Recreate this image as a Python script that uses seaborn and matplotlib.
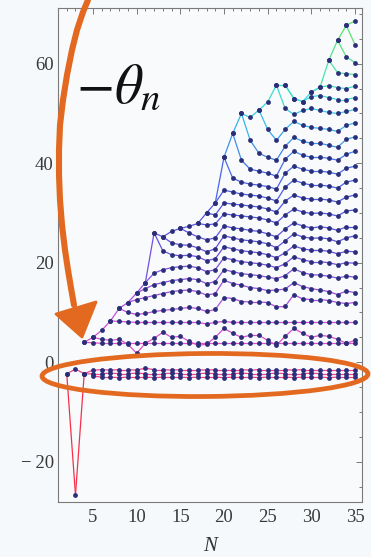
import numpy as np
import pandas as pd
import matplotlib
matplotlib.use("Agg")
import matplotlib.pyplot as plt
from matplotlib.colors import LinearSegmentedColormap
from matplotlib.patches import Ellipse, Polygon
from matplotlib.ticker import MultipleLocator, FuncFormatter
import seaborn as sns

# -theta_n against N.  Every list holds consecutive N values and ends at the
# N given next to it in `last_n` below.
theta_dip = [-2.3, -26.7, -2.3]
theta_band_hi = [-2.3, -1.4, -2.3, -1.6, -1.5, -1.6, -1.5, -1.5, -1.6, -1.2,
                 -1.5, -1.5, -1.6, -1.5, -1.5, -1.5, -1.6, -1.5, -1.5, -1.5,
                 -1.5, -1.6, -1.5, -1.5, -1.5, -1.5, -1.6, -1.5, -1.5, -1.5,
                 -1.5, -1.5, -1.5, -1.5]
theta_band_mid = [-2.4, -2.3, -2.3, -2.2, -2.3, -2.3, -2.2, -2.3, -2.3, -2.3,
                  -2.2, -2.3, -2.3, -2.3, -2.2, -2.3, -2.3, -2.3, -2.2, -2.3,
                  -2.3, -2.3, -2.2, -2.3, -2.3, -2.3, -2.2, -2.3, -2.3, -2.3,
                  -2.3, -2.3]
theta_band_lo = [-2.8, -3.0, -3.0, -3.1, -3.0, -3.0, -3.0, -3.1, -3.0, -3.0,
                 -3.0, -3.1, -3.0, -3.0, -3.0, -3.1, -3.0, -3.0, -3.0, -3.1,
                 -3.0, -3.0, -3.0, -3.1, -3.0, -3.0, -3.0, -3.1, -3.0, -3.0,
                 -3.0]
theta_a = [4.0, 3.9, 3.8, 3.8, 3.8, 3.8, 3.8, 3.8, 3.8, 3.8, 3.8, 3.8, 3.8,
           3.8, 3.8, 3.8, 3.8, 3.8, 3.8, 3.8, 3.8, 3.8, 3.8, 3.8, 3.8, 3.8,
           3.8, 3.8, 3.8, 3.8, 3.8, 3.8]
theta_b = [5.0, 4.6, 4.4, 4.6, 3.6, 1.8, 3.8, 4.8, 6.0, 5.0, 5.2, 4.2, 3.4,
           3.6, 5.0, 6.8, 5.8, 5.0, 5.4, 5.4, 4.4, 3.4, 5.2, 6.8, 5.8, 5.0,
           5.4, 5.2, 4.6, 3.8, 4.4]
theta_c = [8.3, 8.2, 8.1, 8.0, 8.0, 8.0, 8.0, 8.0, 8.0, 8.0, 8.0, 7.7, 8.0,
           8.2, 8.0, 8.0, 8.0, 8.0, 8.0, 8.0, 8.0, 8.0, 8.0, 8.0, 8.0, 8.0,
           8.0, 8.0, 8.0]
theta_d = [10.8, 10.0, 9.6, 9.8, 10.2, 10.4, 10.6, 10.8, 11.0, 10.8, 10.2,
           10.6, 13.0, 12.8, 12.2, 12.1, 12.1, 12.0, 11.1, 11.2, 13.6, 12.7,
           12.6, 12.6, 12.4, 12.0, 11.8, 12.0]
theta_e = [12.0, 12.6, 13.0, 13.4, 13.8, 14.2, 14.4, 14.5, 14.2, 13.5, 13.8,
           16.5, 15.8, 15.5, 15.0, 14.8, 14.4, 14.5, 14.7, 16.0, 15.2, 14.8,
           14.5, 14.2, 13.6, 14.3, 14.0]
theta_f = [13.9, 14.8, 15.6, 16.0, 16.4, 16.6, 16.8, 16.6, 15.8, 16.2, 18.6,
           18.2, 17.8, 17.6, 17.4, 17.1, 16.8, 17.4, 18.8, 18.0, 17.6, 17.5,
           17.3, 16.9, 17.3, 17.1]
theta_g = [16.0, 17.9, 18.6, 19.0, 19.2, 19.3, 19.0, 18.2, 18.6, 21.0, 20.6,
           20.2, 20.0, 19.8, 19.5, 19.0, 19.8, 21.2, 20.6, 20.2, 20.2, 20.0,
           19.6, 20.0, 19.9]
theta_h = [26.0, 22.4, 21.6, 21.4, 21.5, 21.2, 20.4, 20.8, 23.2, 22.8, 22.4,
           22.2, 22.0, 21.6, 21.0, 22.0, 23.4, 22.8, 22.5, 22.5, 22.3, 21.8,
           22.3, 22.2]
theta_i = [25.2, 24.0, 23.6, 23.5, 23.0, 22.2, 22.8, 25.4, 25.0, 24.6, 24.4,
           24.2, 23.8, 23.0, 24.4, 25.8, 25.2, 24.9, 25.0, 24.8, 24.2, 25.0,
           25.4]
theta_j = [26.9, 26.0, 25.2, 24.6, 25.0, 27.4, 27.0, 26.8, 26.5, 26.3, 25.8,
           25.2, 26.8, 28.0, 27.4, 27.0, 27.2, 27.0, 26.5, 27.2, 27.2]
theta_k = [27.9, 27.6, 27.8, 29.8, 29.6, 29.4, 29.2, 29.0, 28.6, 28.0, 29.6,
           30.8, 30.2, 29.9, 30.0, 29.8, 29.4, 30.4, 30.6]
theta_l = [30.0, 29.6, 32.0, 31.8, 31.6, 31.4, 31.2, 30.8, 30.2, 32.4, 33.6,
           33.0, 32.8, 32.8, 32.6, 32.2, 33.2, 33.6]
theta_m = [32.0, 34.6, 34.2, 33.8, 33.6, 33.4, 33.0, 32.4, 35.2, 36.6, 36.0,
           35.6, 35.6, 35.4, 35.0, 36.2, 36.6]
theta_n = [41.2, 37.0, 36.2, 35.8, 35.6, 35.3, 34.8, 38.0, 39.4, 38.8, 38.4,
           38.4, 38.2, 37.8, 39.0, 39.4]
theta_o = [46.0, 40.6, 38.8, 38.4, 38.0, 37.4, 40.8, 42.4, 41.6, 41.2, 41.2,
           41.0, 40.6, 41.8, 42.4]
theta_p = [50.0, 44.6, 42.0, 41.2, 40.6, 43.4, 45.2, 44.4, 44.0, 44.0, 43.6,
           43.2, 44.8, 45.3]
theta_q = [50.7, 46.8, 44.6, 46.8, 48.4, 47.6, 47.2, 47.0, 46.8, 46.4, 47.6,
           48.1]
theta_r = [55.7, 51.0, 49.8, 50.6, 51.0, 50.6, 50.2, 50.0, 50.4, 50.8]
theta_s = [55.7, 53.0, 52.4, 53.4, 53.6, 53.2, 52.8, 52.8, 53.2]
theta_t = [54.3, 55.3, 55.6, 55.2, 55.0, 55.5]
theta_u = [60.7, 58.2, 58.0, 57.8]
theta_v = [64.7, 61.4, 60.2]
theta_w = [67.7, 63.8]
# largest value at each N from N = 4 upward
theta_top = [4.0, 5.0, 6.4, 8.3, 10.8, 12.0, 13.9, 16.0, 26.0, 25.2, 26.3,
             26.9, 27.3, 27.9, 30.0, 32.0, 41.2, 46.0, 50.0, 49.2, 50.7, 52.3,
             55.7, 55.7, 53.0, 52.4, 54.3, 55.3, 60.7, 64.7, 67.7, 68.6]

curves = {
    "dip": theta_dip, "band_hi": theta_band_hi, "band_mid": theta_band_mid,
    "band_lo": theta_band_lo, "a": theta_a, "b": theta_b, "c": theta_c,
    "d": theta_d, "e": theta_e, "f": theta_f, "g": theta_g, "h": theta_h,
    "i": theta_i, "j": theta_j, "k": theta_k, "l": theta_l, "m": theta_m,
    "n": theta_n, "o": theta_o, "p": theta_p, "q": theta_q, "r": theta_r,
    "s": theta_s, "t": theta_t, "u": theta_u, "v": theta_v, "w": theta_w,
    "top": theta_top,
}
last_n = {name: 35 for name in curves}
last_n["dip"] = 4

# long tables: points, and two-point segments coloured by their mean height
pt_rows, seg_rows = [], []
sid = 0
for name, vals in curves.items():
    ns = np.arange(last_n[name] - len(vals) + 1, last_n[name] + 1)
    for x, y in zip(ns, vals):
        pt_rows.append((name, x, y))
    for i in range(len(vals) - 1):
        mid = 0.5 * (vals[i] + vals[i + 1])
        seg_rows.append((sid, ns[i], vals[i], mid))
        seg_rows.append((sid, ns[i + 1], vals[i + 1], mid))
        sid += 1
points = pd.DataFrame(pt_rows, columns=["curve", "N", "theta"])
segs = pd.DataFrame(seg_rows, columns=["seg", "N", "theta", "level"])

vmin, vmax = -27.0, 70.0
stops = [(-27, "#ff1a1a"), (-5, "#f04070"), (2, "#e050c0"), (8, "#d050d8"),
         (15, "#9a50e0"), (22, "#6c50e0"), (32, "#5058e4"), (40, "#4470ea"),
         (46, "#38a8ee"), (52, "#38d8e2"), (58, "#48e4b0"), (64, "#58e47a"),
         (70, "#60e060")]
cmap = LinearSegmentedColormap.from_list(
    "height", [((v - vmin) / (vmax - vmin), c) for v, c in stops])

sns.set_theme(style="white")
plt.rcParams["font.family"] = ["Liberation Serif", "DejaVu Serif"]
plt.rcParams["mathtext.fontset"] = "stix"

W, H = 371, 557
fig = plt.figure(figsize=(W / 100, H / 100), dpi=100, facecolor="#f6f9fb")
ax = fig.add_axes([58 / W, 1 - 502 / H, 304 / W, 494 / H], facecolor="#f8fafc")

sns.lineplot(data=segs, x="N", y="theta", hue="level", units="seg",
             estimator=None, sort=False, palette=cmap, hue_norm=(vmin, vmax),
             legend=False, linewidth=0.9, ax=ax)
sns.scatterplot(data=points, x="N", y="theta", color="#2b2f7a", s=12,
                linewidth=0, legend=False, zorder=3, ax=ax)

ax.set_xlim(1.0, 35.8)
ax.set_ylim(-28.1, 71.2)
ax.xaxis.set_major_locator(MultipleLocator(5))
ax.xaxis.set_minor_locator(MultipleLocator(1))
ax.yaxis.set_major_locator(MultipleLocator(20))
ax.yaxis.set_minor_locator(MultipleLocator(5))
ax.yaxis.set_major_formatter(
    FuncFormatter(lambda v, p: f"\u2212\u2009{abs(v):.0f}" if v < 0 else f"{v:.0f}"))
ax.tick_params(which="both", direction="in", top=True, right=True,
               color="#666666", width=0.6, labelcolor="#3a3a3a", labelsize=13.5)
ax.tick_params(which="major", length=4.5)
ax.tick_params(which="minor", length=2.2)
ax.tick_params(axis="x", pad=5)
ax.tick_params(axis="y", pad=3)
for sp in ax.spines.values():
    sp.set_color("#7a7a7a")
    sp.set_linewidth(0.8)
ax.set_xlabel("N", fontstyle="italic", fontsize=15, color="#333333", labelpad=8)
ax.set_ylabel("")

# hand-drawn orange annotations, in figure pixel coordinates
ov = fig.add_axes([0, 0, 1, 1], facecolor="none", zorder=10)
ov.set_xlim(0, W)
ov.set_ylim(H, 0)
ov.axis("off")
orange = "#e2691f"
shaft_x = [88, 83, 77, 72, 67, 63, 60, 59, 59, 60, 62, 65, 68, 71, 74]
shaft_y = [0, 12, 30, 50, 75, 100, 125, 150, 175, 200, 225, 250, 270, 288, 305]
ov.plot(shaft_x, shaft_y, color=orange, lw=4.4, solid_capstyle="round")
ov.add_patch(Polygon([(56, 314), (96, 302), (82, 337)], closed=True,
                     facecolor=orange, edgecolor=orange, lw=2,
                     joinstyle="round"))
ov.add_patch(Ellipse((205, 375), 326, 43, angle=-0.4, fill=False,
                     edgecolor=orange, lw=3.4))
ov.text(76, 103, r"$-\theta_n$", fontsize=40, color="#111111",
        ha="left", va="baseline")

fig.savefig("out.png", dpi=100, facecolor=fig.get_facecolor())
